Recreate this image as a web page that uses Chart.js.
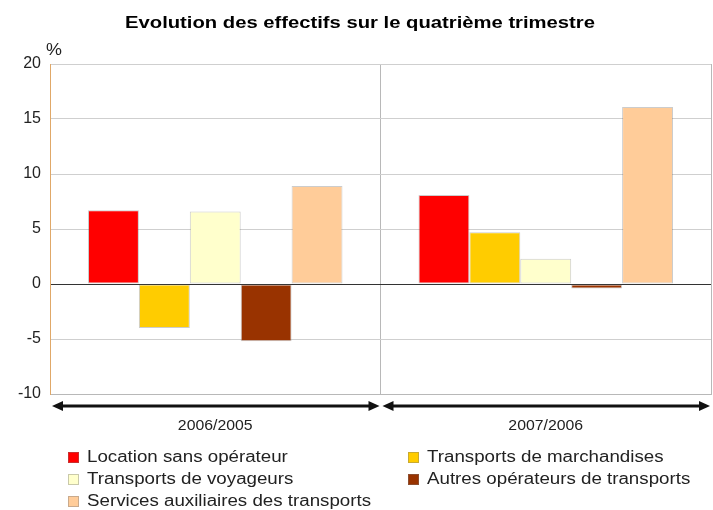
<!DOCTYPE html>
<html><head><meta charset="utf-8">
<script src="https://cdn.jsdelivr.net/npm/chart.js@4"></script>
<style>html,body{margin:0;padding:0;background:#fff}#wrap{width:713px;height:510px}</style>
</head><body><div id="wrap"><canvas id="c" width="713" height="510"></canvas></div>
<script>
const categories = ['2006/2005', '2007/2006'];
const seriesNames = ['Location sans opérateur', 'Transports de marchandises', 'Transports de voyageurs', 'Autres opérateurs de transports', 'Services auxiliaires des transports'];
const locationVals = [6.7, 8.1];
const marchandisesVals = [-4.0, 4.7];
const voyageursVals = [6.6, 2.3];
const autresVals = [-5.2, -0.4];
const servicesVals = [8.9, 16.1];
const yTicks = [-10, -5, 0, 5, 10, 15, 20];
const colors = ['#ff0000', '#ffcc00', '#ffffcc', '#993300', '#ffcc99'];
const titleText = 'Evolution des effectifs sur le quatrième trimestre';
const unitText = '%';
const FONT = '"Liberation Sans", Arial, sans-serif';

const values = [locationVals, marchandisesVals, voyageursVals, autresVals, servicesVals];

function txt(ctx, s, x, y, align, sx) {
  ctx.save();
  ctx.translate(x, y);
  ctx.scale(sx, 1);
  ctx.textAlign = align;
  ctx.fillText(s, 0, 0);
  ctx.restore();
}

const extras = {
  id: 'extras',
  afterDraw(chart) {
    const ctx = chart.ctx, a = chart.chartArea;
    ctx.save();
    ctx.textBaseline = 'middle';
    // title
    ctx.fillStyle = '#000';
    ctx.font = 'bold 17px ' + FONT;
    txt(ctx, titleText, 360, 23, 'center', 1.19);
    // unit
    ctx.font = '16px ' + FONT;
    ctx.fillStyle = '#222';
    txt(ctx, unitText, 46, 51, 'left', 1.12);
    // arrows and category labels
    const n = categories.length;
    const w = (a.right - a.left) / n;
    const y = a.bottom + 12;
    for (let i = 0; i < n; i++) {
      const x1 = a.left + i * w + 2, x2 = a.left + (i + 1) * w - 1;
      ctx.strokeStyle = '#111'; ctx.fillStyle = '#111';
      ctx.lineWidth = 3;
      ctx.beginPath(); ctx.moveTo(x1 + 6, y); ctx.lineTo(x2 - 6, y); ctx.stroke();
      ctx.beginPath(); ctx.moveTo(x1, y); ctx.lineTo(x1 + 11, y - 5); ctx.lineTo(x1 + 11, y + 5); ctx.closePath(); ctx.fill();
      ctx.beginPath(); ctx.moveTo(x2, y); ctx.lineTo(x2 - 11, y - 5); ctx.lineTo(x2 - 11, y + 5); ctx.closePath(); ctx.fill();
      ctx.fillStyle = '#222';
      ctx.font = '14px ' + FONT;
      txt(ctx, categories[i], chart.scales.x.getPixelForValue(i), a.bottom + 32, 'center', 1.13);
    }
    // legend
    const cols = [68, 408];
    const rows = [457, 479, 501];
    ctx.font = '16px ' + FONT;
    chart.data.datasets.forEach((ds, i) => {
      const cx = cols[i % 2], cy = rows[Math.floor(i / 2)];
      ctx.fillStyle = ds.backgroundColor;
      ctx.fillRect(cx, cy - 5, 11, 11);
      ctx.strokeStyle = 'rgba(120,120,120,0.4)'; ctx.lineWidth = 1;
      ctx.strokeRect(cx + 0.5, cy - 4.5, 10, 10);
      ctx.fillStyle = '#222';
      txt(ctx, ds.label, cx + 19, cy + 1, 'left', 1.17);
    });
    ctx.restore();
  }
};

new Chart(document.getElementById('c'), {
  type: 'bar',
  data: {
    labels: categories,
    datasets: seriesNames.map((name, i) => ({
      label: name,
      data: values[i],
      backgroundColor: colors[i],
      borderColor: 'rgba(110,110,110,0.35)',
      borderWidth: 1,
      borderSkipped: false,
      barPercentage: 1.0,
      categoryPercentage: 0.77
    }))
  },
  options: {
    responsive: false,
    animation: false,
    devicePixelRatio: 1,
    layout: { padding: { top: 64, right: 2, left: 0, bottom: 66 } },
    plugins: { legend: { display: false }, title: { display: false }, tooltip: { enabled: false } },
    scales: {
      x: {
        offset: true,
        grid: { offset: true, color: '#b8b8b8', drawTicks: false },
        border: { color: '#b8b8b8' },
        ticks: { display: false },
        afterFit(s) { s.height = 50; }
      },
      y: {
        min: -10, max: 20,
        afterBuildTicks(s) { s.ticks = yTicks.map(v => ({ value: v })); },
        grid: {
          drawTicks: false,
          color: c => (c.tick && c.tick.value === 0) ? '#333' : '#cfcfcf',
          lineWidth: 1
        },
        border: { color: '#e0a868' },
        ticks: { font: { family: FONT, size: 16 }, color: '#222', padding: 9 },
        afterFit(s) { s.width = 50; }
      }
    }
  },
  plugins: [extras]
});
</script></body></html>
